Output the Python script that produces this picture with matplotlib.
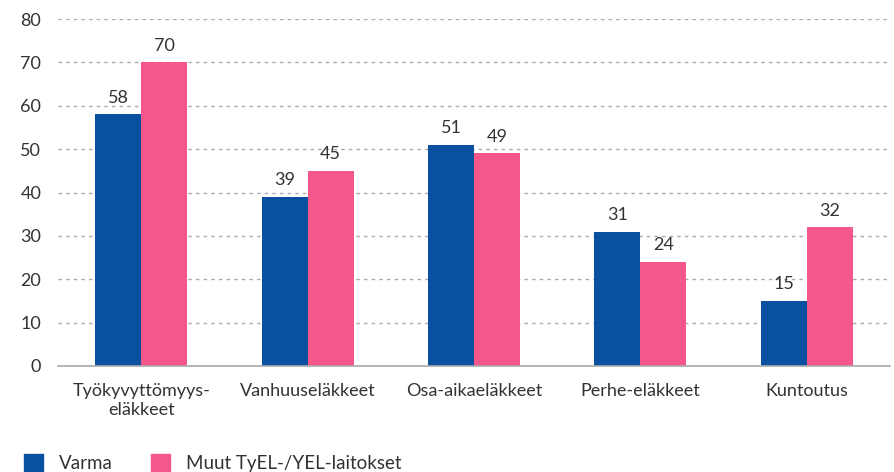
import matplotlib.pyplot as plt
import numpy as np
from matplotlib.patches import Patch

categories = ["Työkyvyttömyys-\neläkkeet", "Vanhuuseläkkeet", "Osa-aikaeläkkeet", "Perhe-eläkkeet", "Kuntoutus"]
varma = [58, 39, 51, 31, 15]
muut = [70, 45, 49, 24, 32]
series_names = ["Varma", "Muut TyEL-/YEL-laitokset"]

blue = "#0a50a1"
pink = "#f5578b"
text_color = "#333333"

plt.rcParams["font.family"] = ["Lato", "DejaVu Sans"]

fig = plt.figure(figsize=(8.95, 4.72), dpi=100)
ax = fig.add_axes([58 / 895, 1 - 366 / 472, 832 / 895, 347 / 472])

x = np.arange(len(categories))
w = 0.277
b1 = ax.bar(x - w / 2, varma, width=w, color=blue, label=series_names[0])
b2 = ax.bar(x + w / 2, muut, width=w, color=pink, label=series_names[1])

for bars, vals in [(b1, varma), (b2, muut)]:
    for bar, v in zip(bars, vals):
        ax.text(bar.get_x() + bar.get_width() / 2, v + 2.0, str(v),
                ha="center", va="bottom", fontsize=13, color=text_color)

ax.set_xlim(-0.5, len(categories) - 0.5)
ax.set_ylim(0, 80)
ax.set_yticks(range(0, 81, 10))
ax.set_xticks(x)
ax.set_xticklabels(categories, fontsize=13, color=text_color, linespacing=1.25)
ax.tick_params(axis="y", labelsize=13, colors=text_color, length=0, pad=12)
ax.tick_params(axis="x", length=0, pad=12)

ax.set_axisbelow(True)
ax.grid(axis="y", linestyle=(0, (2.5, 3)), color="#aaaaaa", linewidth=1)
for s in ["top", "right", "left"]:
    ax.spines[s].set_visible(False)
ax.spines["bottom"].set_color("#aaaaaa")
ax.spines["bottom"].set_linewidth(1.2)

handles = [Patch(color=blue), Patch(color=pink)]
fig.legend(handles, series_names, loc="lower left", bbox_to_anchor=(0.008, -0.035),
           ncol=2, frameon=False, fontsize=13.5, labelcolor=text_color,
           handlelength=1.0, handleheight=1.0, columnspacing=2.05, handletextpad=0.85)

fig.savefig("out.png", dpi=100)
